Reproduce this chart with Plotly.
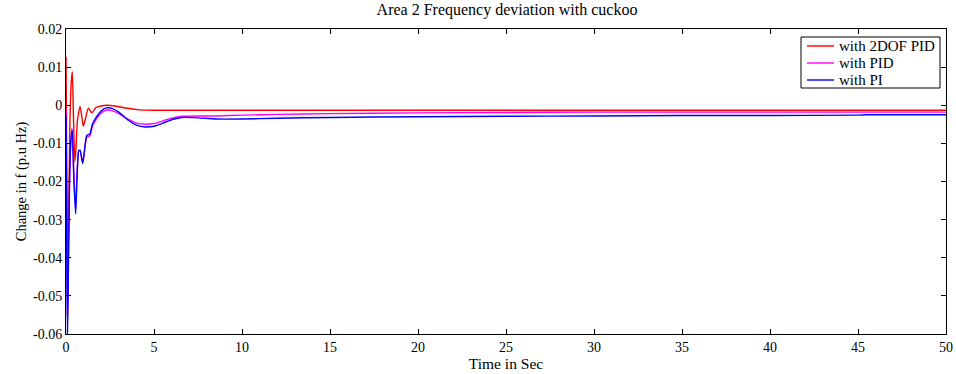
import plotly.graph_objects as go

# ---- data ----
t_2dof = [0, 0.05, 0.1, 0.15, 0.22, 0.3, 0.36, 0.42, 0.5, 0.56, 0.65, 0.8, 0.9, 0.98,
          1.08, 1.27, 1.46, 1.7, 2.0, 2.3, 2.8, 3.5, 4.2, 5, 10, 20, 30, 40, 50]
v_2dof = [0.0127, -0.02, -0.045, -0.03, -0.005, 0.006, 0.0088, -0.002, -0.0148, -0.012,
          -0.004, -0.0003, -0.003, -0.0055, -0.004, -0.0008, -0.002, -0.0006, -0.0002, 0.0,
          -0.0002, -0.0008, -0.0012, -0.0013, -0.0013, -0.0013, -0.0013, -0.0013, -0.0013]

t_pid = [0, 0.04, 0.08, 0.12, 0.2, 0.28, 0.34, 0.45, 0.55, 0.62, 0.72, 0.8, 0.95, 1.05,
         1.17, 1.36, 1.5, 1.74, 2.0, 2.3, 2.6, 3.0, 3.5, 4.0, 4.5, 5.0, 5.5, 6.0, 6.6,
         7.5, 8.5, 10, 12, 15, 20, 25, 30, 35, 40, 45, 50]
v_pid = [-0.001, -0.03, -0.055, -0.045, -0.02, -0.009, -0.006, -0.019, -0.027, -0.019,
         -0.012, -0.012, -0.015, -0.012, -0.0085, -0.008, -0.0055, -0.0035, -0.002, -0.0013,
         -0.0014, -0.0022, -0.0036, -0.0047, -0.005, -0.0048, -0.0041, -0.0034, -0.0029,
         -0.0028, -0.0028, -0.0026, -0.0024, -0.0022, -0.002, -0.0019, -0.0018, -0.0018,
         -0.0018, -0.0018, -0.0018]

t_pi = [0, 0.04, 0.08, 0.12, 0.2, 0.28, 0.36, 0.45, 0.55, 0.62, 0.72, 0.8, 0.95, 1.05,
        1.17, 1.36, 1.5, 1.74, 2.0, 2.3, 2.6, 3.0, 3.5, 4.0, 4.5, 5.0, 5.5, 6.0, 6.6,
        7.5, 8.5, 10, 12, 15, 20, 25, 30, 35, 40, 45, 45.5, 50]
v_pi = [-0.0025, -0.035, -0.06, -0.05, -0.02, -0.009, -0.0066, -0.02, -0.0285, -0.02,
        -0.012, -0.0118, -0.0153, -0.012, -0.008, -0.0075, -0.005, -0.003, -0.0015,
        -0.0007, -0.0008, -0.0018, -0.0038, -0.0052, -0.0057, -0.0055, -0.0047, -0.0038,
        -0.0032, -0.0033, -0.0036, -0.0036, -0.0034, -0.0032, -0.003, -0.0029, -0.0028,
        -0.0027, -0.0027, -0.0026, -0.0025, -0.0025]

series_names = ["with 2DOF PID", "with PID", "with PI"]
series_colors = ["#ff0000", "#ff00ff", "#0000ff"]

x_ticks = [0, 5, 10, 15, 20, 25, 30, 35, 40, 45, 50]
y_ticks = [0.02, 0.01, 0, -0.01, -0.02, -0.03, -0.04, -0.05, -0.06]
y_ticklabels = ["0.02", "0.01", "0", "-0.01", "-0.02", "-0.03", "-0.04", "-0.05", "-0.06"]

FONT = "Liberation Serif, Times New Roman, serif"

# plot-area geometry in pixels (for converting legend placement)
W, H = 956, 374
L, R, T, B = 66, 10, 29, 40
PW, PH = W - L - R, H - T - B


def px_x(px):
    return (px - L) / PW


def px_y(py):
    return (H - B - py) / PH


fig = go.Figure()
for t, v, name, col in [(t_2dof, v_2dof, series_names[0], series_colors[0]),
                        (t_pid, v_pid, series_names[1], series_colors[1]),
                        (t_pi, v_pi, series_names[2], series_colors[2])]:
    fig.add_trace(go.Scatter(x=t, y=v, mode="lines", name=name, showlegend=False,
                             line=dict(color=col, width=1.4, shape="spline", smoothing=0.5)))

# legend box drawn like MATLAB's compact legend
shapes = [dict(type="rect", xref="paper", yref="paper",
               x0=px_x(801), x1=px_x(940), y0=px_y(88), y1=px_y(37),
               line=dict(color="black", width=1), fillcolor="white", layer="above")]
annotations = []
rows_y = [46, 63, 80]
for i, (name, col) in enumerate(zip(series_names, series_colors)):
    yy = px_y(rows_y[i])
    shapes.append(dict(type="line", xref="paper", yref="paper",
                       x0=px_x(807), x1=px_x(834), y0=yy, y1=yy,
                       line=dict(color=col, width=1.4), layer="above"))
    annotations.append(dict(xref="paper", yref="paper", x=px_x(837), y=yy,
                            xanchor="left", yanchor="middle", text=name, showarrow=False,
                            font=dict(family=FONT, size=15, color="black")))

fig.update_layout(
    width=W, height=H,
    margin=dict(l=L, r=R, t=T, b=B),
    paper_bgcolor="white", plot_bgcolor="white",
    font=dict(family=FONT, size=14, color="black"),
    title=dict(text="Area 2 Frequency deviation with cuckoo", x=px_x(507) * PW / W + L / W,
               xanchor="center", y=0.99, yanchor="top",
               font=dict(family=FONT, size=16, color="black")),
    showlegend=False,
    shapes=shapes,
    annotations=annotations,
)
fig.update_xaxes(range=[0, 50], tickvals=x_ticks, ticks="inside", ticklen=5,
                 showline=True, linecolor="black", linewidth=1, mirror="ticks",
                 showgrid=False, zeroline=False, tickcolor="black", automargin=False,
                 tickfont=dict(family=FONT, size=14),
                 title=dict(text="Time in Sec", standoff=0, font=dict(family=FONT, size=15.5)))
fig.update_yaxes(range=[-0.06, 0.02], tickvals=y_ticks, ticktext=y_ticklabels,
                 ticks="inside", ticklen=5,
                 showline=True, linecolor="black", linewidth=1, mirror="ticks",
                 showgrid=False, zeroline=False, tickcolor="black", automargin=False,
                 tickfont=dict(family=FONT, size=14),
                 title=dict(text="Change in f (p.u Hz)", standoff=2, font=dict(family=FONT, size=14.5)))

fig.write_html("out.html")
